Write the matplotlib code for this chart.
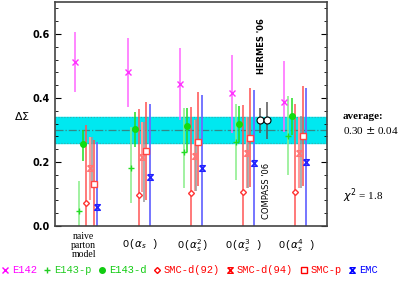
import matplotlib.pyplot as plt
from matplotlib.ticker import MultipleLocator
from matplotlib.lines import Line2D
from matplotlib.path import Path
import numpy as np

# group labels (theory orders)
groups = ["naive\nparton\nmodel", r"O($\alpha_s$ )", r"O($\alpha_s^2$)",
          r"O($\alpha_s^3$ )", r"O($\alpha_s^4$ )"]

# central values, upper and lower ends of the error bars, per experiment
e142_v = [0.513, 0.480, 0.443, 0.415, 0.389]
e142_hi = [0.606, 0.589, 0.557, 0.534, 0.517]
e142_lo = [0.419, 0.371, 0.331, 0.292, 0.295]

e143p_v = [0.047, 0.180, 0.230, 0.262, 0.282]
e143p_hi = [0.140, 0.310, 0.370, 0.380, 0.406]
e143p_lo = [-0.05, 0.071, 0.118, 0.144, 0.159]

e143d_v = [0.256, 0.302, 0.313, 0.319, 0.345]
e143d_hi = [0.300, 0.357, 0.370, 0.375, 0.400]
e143d_lo = [0.204, 0.248, 0.232, 0.263, 0.284]

smcd92_v = [0.073, 0.097, 0.102, 0.107, 0.107]
smcd92_hi = [0.315, 0.366, 0.373, 0.378, 0.380]
smcd92_lo = [-0.2, -0.2, -0.2, -0.2, -0.2]

smcd94_v = [0.180, 0.217, 0.220, 0.227, 0.227]
smcd94_hi = [0.279, 0.326, 0.331, 0.340, 0.340]
smcd94_lo = [0.080, 0.105, 0.110, 0.118, 0.120]

smcp_v = [0.131, 0.235, 0.264, 0.276, 0.282]
smcp_hi = [0.270, 0.389, 0.418, 0.432, 0.437]
smcp_lo = [-0.2, 0.081, 0.125, 0.123, 0.125]

emc_v = [0.059, 0.154, 0.182, 0.196, 0.201]
emc_hi = [0.264, 0.381, 0.410, 0.425, 0.430]
emc_lo = [-0.2, -0.2, -0.2, -0.2, -0.2]

# grey bars next to SMC-d(94)
grey_hi = [0.279, 0.326, 0.334, 0.342, 0.345]
grey_lo = [0.140, 0.076, 0.109, 0.120, 0.120]

# HERMES '06 and COMPASS '06
new_x = [3.39, 3.52]
new_v = [0.330, 0.330]
new_hi = [0.369, 0.389]
new_lo = [0.290, 0.272]

avg, avg_err = 0.30, 0.04

# hourglass-like cross with end bars
hour = Path([(-1, 1), (1, 1), (-1, -1), (1, -1), (-1, 1)],
            [Path.MOVETO, Path.LINETO, Path.LINETO, Path.LINETO, Path.LINETO])

series = [
    ("E142", e142_v, e142_hi, e142_lo, "#ff33ff", "#ff66ff", "x", 4, 1.1, "#ff00ff"),
    ("E143-p", e143p_v, e143p_hi, e143p_lo, "#22dd22", "#88ee88", "+", 4, 1.1, "#22cc22"),
    ("E143-d", e143d_v, e143d_hi, e143d_lo, "#11dd11", "#22dd22", "o", 4, 1.1, "#11cc11"),
    ("SMC-d(92)", smcd92_v, smcd92_hi, smcd92_lo, "#ff3333", "#ff5555", "D", 3, 1.1, "#ff0000"),
    ("SMC-d(94)", smcd94_v, smcd94_hi, smcd94_lo, "#ff7777", "#ff9a9a", hour, 4, 1.5, "#ff0000"),
    ("SMC-p", smcp_v, smcp_hi, smcp_lo, "#ff4444", "#ff5050", "s", 4, 1.1, "#ff0000"),
    ("EMC", emc_v, emc_hi, emc_lo, "#2222ff", "#6a6aff", hour, 4, 1.3, "#0000ff"),
]

fig = plt.figure(figsize=(4.03, 2.83), dpi=100)
ax = fig.add_axes([0.1365, 0.2014, 0.6749, 0.7916])

gx = np.arange(len(groups))
ax.axhspan(avg - avg_err, avg + avg_err, color="#00e8f0", zorder=0)
ax.axhline(avg, color="#338888", lw=0.9, ls="-.", zorder=1)
ax.axhline(avg + avg_err, color="#33aaaa", lw=0.8, ls=":", zorder=1)
ax.axhline(avg - avg_err, color="#33aaaa", lw=0.8, ls=":", zorder=1)

handles = []
for i, (name, v, hi, lo, mc, lc, mk, ms, lw, tc) in enumerate(series):
    x = gx + (i - 2) * 0.07
    ax.vlines(x, lo, hi, color=lc, lw=lw, zorder=2)
    if name == "SMC-d(94)":
        ax.vlines(x + 0.03, grey_lo, grey_hi, color="#999999", lw=1.1, zorder=2)
    if mk in ("D", "s"):
        ax.plot(x, v, ls="none", marker=mk, ms=ms, mfc="white", mec=mc, mew=1.0, zorder=4)
        h = Line2D([], [], ls="none", marker=mk, ms=ms, mfc="white", mec=tc, mew=1.0)
    elif mk is hour:
        ax.plot(x, v, ls="none", marker=mk, ms=ms, mfc="none", mec=mc, mew=1.1, zorder=4)
        h = Line2D([], [], ls="none", marker=mk, ms=ms, mfc="none", mec=tc, mew=1.0)
    else:
        ax.plot(x, v, ls="none", marker=mk, ms=ms, color=mc, mew=1.0, zorder=4)
        h = Line2D([], [], ls="none", marker=mk, ms=ms, color=tc, mew=1.0)
    handles.append((h, name, tc))

ax.vlines(new_x, new_lo, new_hi, color="#555555", lw=1.1, zorder=3)
ax.plot(new_x, new_v, ls="none", marker="o", ms=5, mfc="white", mec="black", mew=0.8, zorder=5)
ax.text(new_x[0] + 0.03, 0.648, "HERMES '06", rotation=90, ha="center", va="top",
        fontsize=6, family="Liberation Sans Narrow", fontweight="bold")
ax.text(new_x[1], 0.197, "COMPASS '06", rotation=90, ha="center", va="top",
        fontsize=6, family="Liberation Sans Narrow")

ax.set_xlim(-0.53, 4.676)
ax.set_ylim(0, 0.7)
ax.yaxis.set_minor_locator(MultipleLocator(0.04))
ax.set_yticks([0.0, 0.2, 0.4, 0.6])
ax.set_yticklabels(["0.0", "0.2", "0.4", "0.6"], fontsize=7, fontweight="bold")
ax.tick_params(axis="y", which="both", direction="in", left=True, right=True)
ax.tick_params(axis="y", which="major", length=4, width=0.8)
ax.tick_params(axis="y", which="minor", length=2, width=0.6)
ax.set_xticks([])
for s in ax.spines.values():
    s.set_color("#444444")
    s.set_linewidth(1.2)

# group labels under the axis
lab_x = [0.02, 1.1, 2.1, 3.09, 4.1]
for xl, g in zip(lab_x, groups):
    if g.startswith("naive"):
        ax.text(xl, -0.02, g, ha="center", va="top", fontsize=7,
                family="Liberation Serif", linespacing=0.95)
    else:
        ax.text(xl, -0.035, g, ha="center", va="top", fontsize=7.5,
                family="Liberation Mono")

fig.text(0.035, 0.59, r"$\Delta\Sigma$", fontsize=8, ha="left", va="center")
fig.text(0.851, 0.59, "average:", fontsize=8, family="Liberation Serif",
         fontweight="bold", ha="left", va="center")
fig.text(0.851, 0.54, "0.30 $\\pm$ 0.04", fontsize=8, family="Liberation Serif",
         ha="left", va="center")
fig.text(0.851, 0.31, r"$\chi^2$ = 1.8", fontsize=8, family="Liberation Serif",
         ha="left", va="center")

leg = fig.legend([h for h, _, _ in handles], [n for _, n, _ in handles],
                 loc="center left", bbox_to_anchor=(0.005, 0.045), ncol=7, frameon=False,
                 handlelength=0.6, handletextpad=0.35, columnspacing=0.7,
                 borderpad=0, borderaxespad=0,
                 prop={"family": "Liberation Mono", "size": 7.5})
for t, (_, _, c) in zip(leg.get_texts(), handles):
    t.set_color(c)

fig.savefig("out.png", dpi=100)
